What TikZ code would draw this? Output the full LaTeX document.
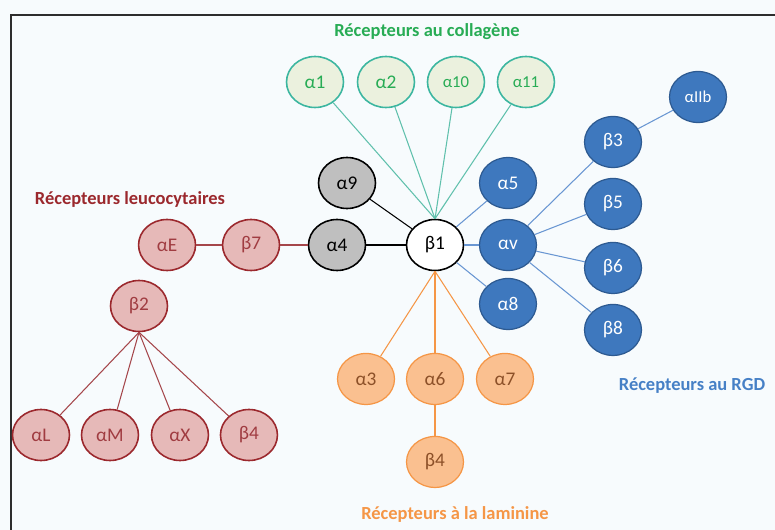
\documentclass[tikz,border=0pt]{standalone}
\usepackage{fontspec}
\setmainfont{Carlito}
\usepackage{tikz}
\usetikzlibrary{shapes,positioning}
\usepackage{xcolor}
\definecolor{bgpale}{RGB}{247,251,253}
\definecolor{framegray}{RGB}{45,45,45}
\definecolor{colteal}{RGB}{60,182,160}
\definecolor{colfill}{RGB}{235,241,222}
\definecolor{colgreen}{RGB}{40,172,85}
\definecolor{colline}{RGB}{95,192,172}
\definecolor{rgdblue}{RGB}{62,120,190}
\definecolor{rgddark}{RGB}{45,90,145}
\definecolor{rgdline}{RGB}{105,150,210}
\definecolor{rgdlabel}{RGB}{70,128,198}
\definecolor{lamfill}{RGB}{250,192,144}
\definecolor{lamedge}{RGB}{245,150,70}
\definecolor{lamtext}{RGB}{140,80,40}
\definecolor{leufill}{RGB}{230,185,184}
\definecolor{leuedge}{RGB}{155,40,45}
\definecolor{leutext}{RGB}{160,60,65}
\definecolor{leuline}{RGB}{165,70,75}
\definecolor{neutral}{RGB}{191,191,191}
\tikzstyle{integrin} = [ellipse, minimum width=1.14cm, minimum height=1.02cm, inner sep=0pt, line width=0.9pt, font=\fontsize{11}{13}\selectfont]
\tikzstyle{collagen} = [integrin, draw=colteal, fill=colfill, text=colgreen]
\tikzstyle{rgd} = [integrin, draw=rgddark, fill=rgdblue, text=white, line width=0.7pt]
\tikzstyle{laminin} = [integrin, draw=lamedge, fill=lamfill, text=lamtext, line width=0.7pt]
\tikzstyle{leuco} = [integrin, draw=leuedge, fill=leufill, text=leutext]
\tikzstyle{other} = [integrin, draw=black, fill=neutral]
\tikzstyle{family} = [font=\fontsize{10.5}{12}\selectfont\bfseries]
\tikzstyle{link} = [line width=0.6pt]

\begin{document}
\begin{tikzpicture}[x=0.02cm, y=-0.02cm]
\fill[bgpale] (0,0) rectangle (775,530);
\useasboundingbox (0,0) rectangle (775,530);
\draw[line width=1.4pt, framegray] (11,530) -- (11,15) -- (775,15);

% Central subunit
\node (b1) [integrin, draw=black, fill=white] at (435,245) {β1};
\node (a4) [other, left of=b1, node distance=1.96cm] {α4};
\node (a9) [other] at (347,183) {α9};

% Collagen receptors
\node (a1) [collagen] at (315,82) {α1};
\node (a2) [collagen, right of=a1, node distance=1.42cm] {α2};
\node (a10) [collagen, right of=a2, node distance=1.4cm, font=\fontsize{9.5}{11}\selectfont] {α10};
\node (a11) [collagen, right of=a10, node distance=1.4cm, font=\fontsize{9.5}{11}\selectfont] {α11};
\node (colllabel) [family, text=colgreen] at (427,32) {Récepteurs au collagène};

% RGD receptors
\node (av) [rgd, right of=b1, node distance=1.46cm] {αv};
\node (a5) [rgd, above of=av, node distance=1.24cm] {α5};
\node (a8) [rgd, below of=av, node distance=1.18cm] {α8};
\node (b3) [rgd] at (613,142) {β3};
\node (b5) [rgd, below of=b3, node distance=1.24cm] {β5};
\node (b6) [rgd, below of=b5, node distance=1.28cm] {β6};
\node (b8) [rgd, below of=b6, node distance=1.24cm] {β8};
\node (aIIb) [rgd, font=\fontsize{9.5}{11}\selectfont] at (698,97) {αIIb};
\node (rgdlabel) [family, text=rgdlabel] at (692,386) {Récepteurs au RGD};

% Laminin receptors
\node (a6) [laminin, below of=b1, node distance=2.68cm] {α6};
\node (a3) [laminin, left of=a6, node distance=1.38cm] {α3};
\node (a7) [laminin, right of=a6, node distance=1.4cm] {α7};
\node (b4lam) [laminin, below of=a6, node distance=1.66cm] {β4};
\node (lamlabel) [family, text=lamedge] at (455,514) {Récepteurs à la laminine};

% Leukocyte receptors
\node (b7) [leuco, left of=a4, node distance=1.72cm] {β7};
\node (aE) [leuco, left of=b7, node distance=1.68cm] {αE};
\node (b2) [leuco] at (139,306) {β2};
\node (aL) [leuco] at (41,435) {αL};
\node (aM) [leuco, right of=aL, node distance=1.38cm] {αM};
\node (aX) [leuco, right of=aM, node distance=1.4cm] {αX};
\node (b4leu) [leuco, right of=aX, node distance=1.38cm] {β4};
\node (leulabel) [family, text=leuedge] at (130,199) {Récepteurs leucocytaires};

% Links
\foreach \n in {a1,a2,a10,a11}
  \draw[link, colline] (b1.north) -- (\n);
\draw[link, black] (a9) -- (b1);
\draw[link, black] (a4) -- (b1);
\draw[link, leuline] (b7) -- (a4);
\draw[link, leuline] (aE) -- (b7);
\foreach \n in {aL,aM,aX,b4leu}
  \draw[link, leuline] (b2.south) -- (\n);
\draw[link, rgdline] (b1) -- (a5);
\draw[rgdline, line width=1.2pt] (b1) -- (av);
\draw[link, rgdline] (b1) -- (a8);
\foreach \n in {b3,b5,b6,b8}
  \draw[link, rgdline] (av) -- (\n);
\draw[link, rgdline] (b3) -- (aIIb);
\foreach \n in {a3,a6,a7}
  \draw[link, lamedge] (b1.south) -- (\n);
\draw[link, lamedge] (a6) -- (b4lam);
\end{tikzpicture}
\end{document}
